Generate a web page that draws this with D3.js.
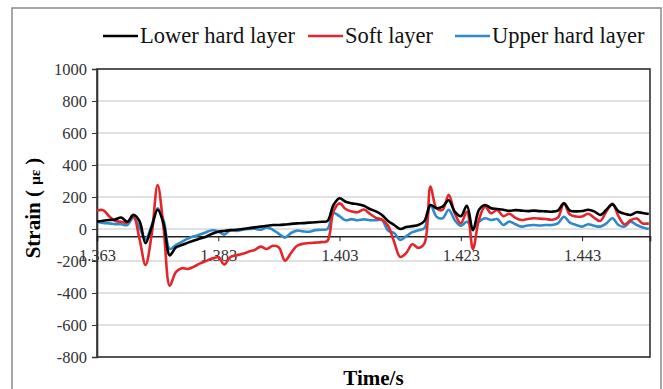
<html>
<head>
<script src="https://d3js.org/d3.v7.min.js"></script>
<style>
  body { margin: 0; background: #fff; }
  text { font-family: "Liberation Serif", "Times New Roman", serif; }
</style>
</head>
<body>
<div id="chart"></div>
<script>
// time samples, 1 ms apart
const times = d3.range(92).map(i => +(1.363 + i * 0.001).toFixed(3))

const lowerHard = [46, 52, 56, 60, 72, 45, 88, 50, -88, 10,
  120, 30, -165, -115, -100, -85, -72, -60, -48, -30,
  -17, -12, -7, -5, 0, 5, 10, 15, 20, 25,
  25, 28, 32, 35, 37, 40, 42, 45, 50, 150,
  192, 170, 160, 155, 145, 125, 110, 88, 50, 25,
  0, 12, 18, 25, 50, 150, 130, 140, 180, 108,
  80, 145, -8, 120, 150, 130, 125, 120, 114, 118,
  115, 112, 115, 112, 110, 108, 115, 160, 115, 110,
  112, 120, 110, 88, 120, 154, 110, 95, 88, 105,
  100, 94]

const softLayer = [115, 118, 80, 50, 45, 40, 80, -60, -225, -40,
  275, 0, -355, -270, -245, -250, -235, -215, -200, -185,
  -177, -222, -175, -165, -155, -142, -131, -110, -125, -105,
  -115, -198, -150, -105, -92, -88, -85, -82, -75, 110,
  160, 125, 110, 105, 122, 95, 70, 58, 20, -80,
  -175, -150, -95, -118, -90, 265, 129, 120, 213, 98,
  35, 108, -125, 60, 140, 98, 119, 80, 95, 70,
  56, 62, 67, 65, 62, 58, 70, 160, 90, 78,
  78, 95, 70, 50, 110, 158, 80, 28, 55, 65,
  35, 35]

const upperHard = [46, 38, 35, 30, 30, 25, 70, 10, -65, 20,
  130, 50, -125, -100, -80, -60, -45, -35, -20, -8,
  -15, -35, -8, -12, -5, 0, 2, -5, 10, -5,
  -30, -54, -25, -10, -15, -17, -7, -5, 0, 100,
  80, 55, 62, 55, 60, 55, 55, 56, -10, -25,
  -68, -45, -20, -8, 5, 150, 77, 67, 120, 55,
  20, 45, 4, 45, 67, 56, 62, 25, 46, 30,
  15, 22, 25, 22, 25, 25, 35, 77, 40, 25,
  15, 30, 20, 15, 35, 67, 25, 15, 46, 25,
  10, 0]

const seriesNames = ['Lower hard layer', 'Soft layer', 'Upper hard layer']
const seriesColors = ['#000000', '#e3262b', '#2f8acb']
const xTicks = [1.363, 1.383, 1.403, 1.423, 1.443]
const yTicks = [-800, -600, -400, -200, 0, 200, 400, 600, 800, 1000]

const width = 663, height = 389
const margin = { left: 97, right: 13, top: 69, bottom: 32 }
const serif = '"Liberation Serif", "Times New Roman", serif'

const svg = d3.select('#chart').append('svg')
  .attr('width', width)
  .attr('height', height)

// outer frame
svg.append('rect')
  .attr('x', 12).attr('y', 8)
  .attr('width', 649).attr('height', 400)
  .attr('fill', 'none')
  .attr('stroke', '#8a8a8a')
  .attr('stroke-width', 1.5)

const x = d3.scaleLinear()
  .domain([1.363, 1.4542])
  .range([margin.left, width - margin.right])

const y = d3.scaleLinear()
  .domain([-800, 1000])
  .range([height - margin.bottom, margin.top])

// gridlines
svg.append('g')
  .selectAll('line')
  .data(yTicks)
  .join('line')
  .attr('x1', margin.left).attr('x2', width - margin.right)
  .attr('y1', d => y(d)).attr('y2', d => y(d))
  .attr('stroke', '#c4c4c4')
  .attr('stroke-width', 1.2)

// plot frame
svg.append('rect')
  .attr('x', margin.left).attr('y', margin.top)
  .attr('width', width - margin.right - margin.left)
  .attr('height', height - margin.bottom - margin.top)
  .attr('fill', 'none')
  .attr('stroke', '#333')
  .attr('stroke-width', 1.6)

// y axis
const yAxis = svg.append('g')
  .attr('transform', `translate(${margin.left},0)`)
  .call(d3.axisLeft(y).tickValues(yTicks).tickFormat(d => String(d)).tickSize(5).tickPadding(5))
  .attr('font-family', serif)
yAxis.select('.domain').attr('stroke', '#333').attr('stroke-width', 1.6)
yAxis.selectAll('line').attr('stroke', '#333')
yAxis.selectAll('text').attr('font-size', 16.5).attr('fill', '#333')

// x axis crosses near -45
const xAxis = svg.append('g')
  .attr('transform', `translate(0,${y(-45)})`)
  .call(d3.axisBottom(x).tickValues(xTicks).tickFormat(d3.format('.3f')).tickSize(5).tickPadding(8))
  .attr('font-family', serif)
xAxis.select('.domain').attr('stroke', '#222').attr('stroke-width', 1.6)
xAxis.selectAll('line').attr('stroke', '#222')
xAxis.selectAll('text').attr('font-size', 16.5).attr('fill', '#333')

// lines
const line = d3.line()
  .x(d => x(d[0]))
  .y(d => y(d[1]))
  .curve(d3.curveCatmullRom.alpha(0.5))

const allSeries = [upperHard, softLayer, lowerHard]
const allColors = [seriesColors[2], seriesColors[1], seriesColors[0]]
allSeries.forEach((vals, k) => {
  svg.append('path')
    .datum(times.map((t, i) => [t, vals[i]]))
    .attr('fill', 'none')
    .attr('stroke', allColors[k])
    .attr('stroke-width', 2.6)
    .attr('stroke-linejoin', 'round')
    .attr('d', line)
})

// legend
const legendX = [103, 308, 455]
const legend = svg.append('g')
seriesNames.forEach((name, i) => {
  legend.append('line')
    .attr('x1', legendX[i]).attr('x2', legendX[i] + 35)
    .attr('y1', 36).attr('y2', 36)
    .attr('stroke', seriesColors[i])
    .attr('stroke-width', 2.6)
  legend.append('text')
    .attr('x', legendX[i] + 37).attr('y', 43)
    .attr('font-size', 22.5)
    .attr('fill', '#111')
    .text(name)
})

// axis titles
svg.append('text')
  .attr('x', (margin.left + width - margin.right) / 2)
  .attr('y', 385)
  .attr('text-anchor', 'middle')
  .attr('font-size', 21)
  .attr('font-weight', 'bold')
  .text('Time/s')

const yTitle = svg.append('text')
  .attr('transform', 'translate(40,208) rotate(-90)')
  .attr('text-anchor', 'middle')
  .attr('font-size', 21)
  .attr('font-weight', 'bold')
yTitle.append('tspan').text('Strain ( ')
yTitle.append('tspan').attr('font-size', 15).text('με')
yTitle.append('tspan').text(' )')
</script>
</body>
</html>
